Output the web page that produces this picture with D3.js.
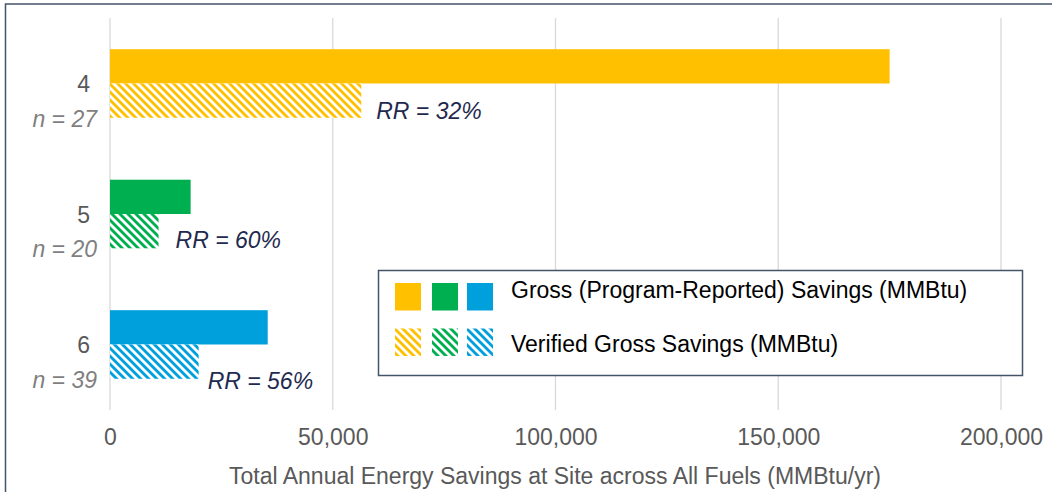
<!DOCTYPE html>
<html>
<head>
<meta charset="utf-8">
<script src="https://cdn.jsdelivr.net/npm/d3@7"></script>
<style>
  body { margin: 0; background: #fff; }
  svg { font-family: "Liberation Sans", Arial, sans-serif; }
</style>
</head>
<body>
<div id="chart"></div>
<script>
// data
const groups = ["4", "5", "6"];
const sampleSizes = [27, 20, 39];
const grossSavings = [175000, 18100, 35400];
const verifiedSavings = [56400, 10900, 19900];
const realizationRates = ["32%", "60%", "56%"];
const colors = ["#ffc000", "#00b050", "#00a0dc"];
const xTicks = [0, 50000, 100000, 150000, 200000];

// hand-placed RR label nudges (dx from bar end, dy from row centre)
const rrNudge = [[15, 35], [17, 34], [9, 44]];

const width = 1052, height = 492;
const fontSize = 23;

const svg = d3.select("#chart").append("svg")
    .attr("width", width)
    .attr("height", height);

// hatch patterns, one per colour
const defs = svg.append("defs");
colors.forEach((c, i) => {
    const p = defs.append("pattern")
        .attr("id", "hatch" + i)
        .attr("patternUnits", "userSpaceOnUse")
        .attr("width", 5.66).attr("height", 5.66)
        .attr("patternTransform", "rotate(-45)");
    p.append("rect").attr("width", 5.66).attr("height", 5.66).attr("fill", "#fff");
    p.append("rect").attr("width", 2.83).attr("height", 5.66).attr("fill", c);
});

// outer frame
svg.append("rect")
    .attr("x", 5.5).attr("y", 4)
    .attr("width", width + 10).attr("height", height + 10)
    .attr("fill", "none")
    .attr("stroke", "#44546a")
    .attr("stroke-width", 1.5);

const x = d3.scaleLinear()
    .domain([0, 200000])
    .range([110, 1001]);

// row centres (boundary between gross and verified bar)
const y = d3.scalePoint()
    .domain(groups)
    .range([83.5, 344.5]);

// gridlines
svg.append("g")
    .selectAll("line")
    .data(xTicks)
    .join("line")
    .attr("x1", d => x(d)).attr("x2", d => x(d))
    .attr("y1", 18).attr("y2", 410)
    .attr("stroke", "#d9d9d9")
    .attr("stroke-width", 1.3);

// x axis labels
const xAxis = svg.append("g")
    .attr("transform", "translate(0,425)")
    .call(d3.axisBottom(x).tickValues(xTicks).tickFormat(d3.format(",")).tickSize(0).tickPadding(0));
xAxis.select(".domain").remove();
xAxis.selectAll("text")
    .attr("dy", null)
    .attr("y", 20)
    .attr("font-size", fontSize)
    .attr("font-family", "Liberation Sans, Arial, sans-serif")
    .attr("fill", "#595959");

svg.append("text")
    .attr("x", 555)
    .attr("y", 484)
    .attr("text-anchor", "middle")
    .attr("font-size", fontSize)
    .attr("fill", "#595959")
    .text("Total Annual Energy Savings at Site across All Fuels (MMBtu/yr)");

const barH = 34.3;
const rows = groups.map((g, i) => ({
    g, i, n: sampleSizes[i], gross: grossSavings[i], verified: verifiedSavings[i], rr: realizationRates[i]
}));

const row = svg.append("g").selectAll("g")
    .data(rows)
    .join("g");

// gross bars
row.append("rect")
    .attr("x", x(0))
    .attr("y", d => y(d.g) - barH)
    .attr("width", d => x(d.gross) - x(0))
    .attr("height", barH)
    .attr("fill", d => colors[d.i]);

// verified bars
row.append("rect")
    .attr("x", x(0))
    .attr("y", d => y(d.g))
    .attr("width", d => x(d.verified) - x(0))
    .attr("height", barH)
    .attr("fill", d => `url(#hatch${d.i})`);

// RR labels
row.append("text")
    .attr("x", d => x(d.verified) + rrNudge[d.i][0])
    .attr("y", d => y(d.g) + rrNudge[d.i][1])
    .attr("font-size", fontSize)
    .attr("font-style", "italic")
    .attr("fill", "#1f2a4f")
    .text(d => "RR = " + d.rr);

// category labels
row.append("text")
    .attr("x", 90)
    .attr("y", d => y(d.g) + 8.5)
    .attr("text-anchor", "end")
    .attr("font-size", fontSize)
    .attr("fill", "#595959")
    .text(d => d.g);

row.append("text")
    .attr("x", 97)
    .attr("y", d => y(d.g) + 43)
    .attr("text-anchor", "end")
    .attr("font-size", fontSize)
    .attr("font-style", "italic")
    .attr("fill", "#7f7f7f")
    .text(d => "n = " + d.n);

// legend
const legend = svg.append("g");
legend.append("rect")
    .attr("x", 378.5).attr("y", 270.5)
    .attr("width", 644).attr("height", 105)
    .attr("fill", "#fff")
    .attr("stroke", "#44546a")
    .attr("stroke-width", 1.5);

const swX = [395, 432, 467];
const legendRows = [
    { label: "Gross (Program-Reported) Savings (MMBtu)", fill: i => colors[i], y: 283, base: 297.5 },
    { label: "Verified Gross Savings (MMBtu)", fill: i => `url(#hatch${i})`, y: 328.5, base: 351.5 }
];
legendRows.forEach(r => {
    colors.forEach((c, i) => {
        legend.append("rect")
            .attr("x", swX[i]).attr("y", r.y)
            .attr("width", 26).attr("height", 27.5)
            .attr("fill", r.fill(i));
    });
    legend.append("text")
        .attr("x", 511)
        .attr("y", r.base)
        .attr("font-size", fontSize)
        .attr("fill", "#000")
        .text(r.label);
});
</script>
</body>
</html>
